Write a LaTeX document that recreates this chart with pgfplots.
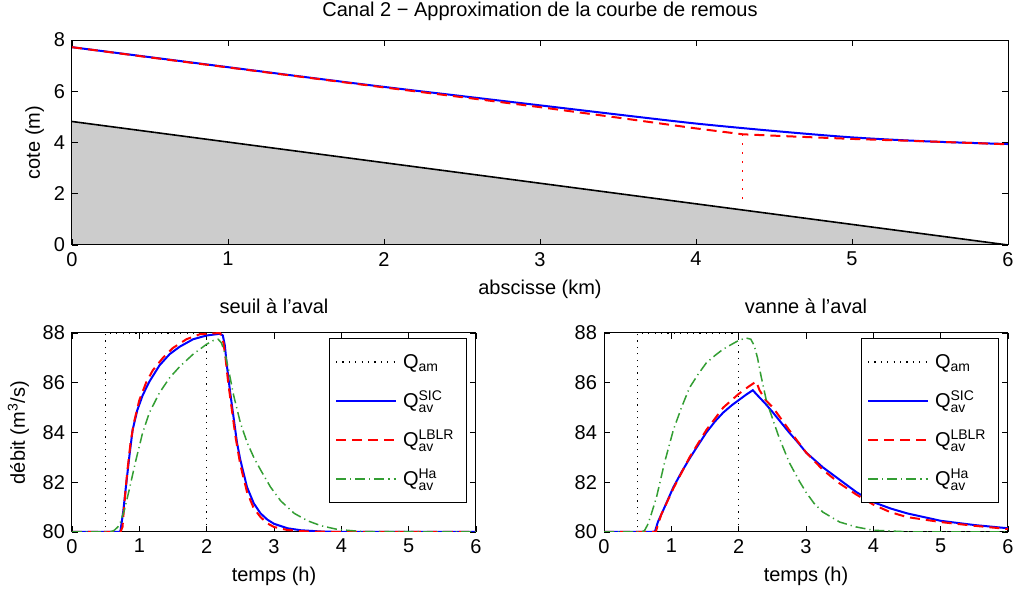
\documentclass[border=0pt]{standalone}
\usepackage{amsmath}
\usepackage{fontspec}
\setmainfont{Liberation Sans}
\usepackage{pgfplots}
\pgfplotsset{compat=1.18}
\definecolor{bedgray}{rgb}{0.8,0.8,0.8}
\definecolor{hagreen}{rgb}{0.2,0.62,0.2}
\pgfplotsset{
  every axis/.append style={
    scale only axis,
    font=\fontsize{10}{12}\selectfont,
    /pgf/number format/assume math mode=true,
    tick align=inside,
    major tick length=3pt,
    axis line style={line width=0.5pt},
    every tick/.style={black, line width=0.4pt},
    title style={font=\fontsize{10}{12}\selectfont},
    label style={font=\fontsize{10}{12}\selectfont},
  },
  mylegend/.style={
    legend cell align=left,
    legend style={at={(0.978,0.975)}, anchor=north east, draw=black, line width=0.5pt,
      font=\fontsize{10}{12}\selectfont,
      nodes={text height=10pt, text depth=3.5pt, inner sep=3pt},
      row sep=0pt},
    legend image code/.code={\draw[##1] (0pt,0pt) -- (30pt,0pt);},
  },
  qam/.style={black, dash pattern=on 0.6pt off 2.6pt, line width=0.6pt},
  sic/.style={blue, solid, line width=1pt},
  lblr/.style={red, dash pattern=on 5pt off 3pt, line width=1pt},
  ha/.style={hagreen, dash pattern=on 5pt off 2pt on 0.6pt off 2pt, line width=0.75pt},
}
\begin{document}
\begin{tikzpicture}
\path[use as bounding box] (0,0) rectangle (508.5pt,296.5pt);
% ---------------- top axis ----------------
\begin{axis}[
  at={(36pt,174pt)}, anchor=south west,
  width=468pt, height=102.5pt,
  xmin=0, xmax=6, ymin=0, ymax=8,
  xtick={0,1,...,6}, ytick={0,2,...,8},
  axis on top,
  title={Canal 2 − Approximation de la courbe de remous},
  xlabel={abscisse (km)}, ylabel={cote (m)},
  ylabel style={yshift=-2pt},
]
\addplot[fill=bedgray, draw=none] coordinates {(0,0) (0,4.82) (6,0)} -- cycle;
\addplot[black, line width=0.8pt] coordinates {(0,4.82) (6,0)};
\addplot[red, line width=0.5pt, dash pattern=on 0.6pt off 3.9pt] coordinates {(4.3,4.32) (4.3,1.7)};
\addplot[sic, smooth] coordinates {
(0,7.72) (0.5,7.33) (1,6.94) (1.5,6.55) (2,6.17) (2.5,5.81) (3,5.45) (3.5,5.09)
(4,4.74) (4.5,4.45) (5,4.20) (5.5,4.04) (6,3.94)};
\addplot[lblr] coordinates {
(0,7.72) (0.5,7.32) (1,6.93) (1.5,6.54) (2,6.15) (2.5,5.77) (3,5.38) (3.5,4.97)
(4,4.55) (4.3,4.32) (4.6,4.24) (5,4.14) (5.5,4.04) (6,3.93)};
\end{axis}
% ---------------- bottom left ----------------
\begin{axis}[
  at={(36pt,30.5pt)}, anchor=south west,
  width=202pt, height=99.5pt,
  xmin=0, xmax=6, ymin=80, ymax=88,
  xtick={0,1,...,6}, ytick={80,82,...,88},
  title={seuil à l’aval},
  xlabel={temps (h)}, ylabel={débit (m\textsuperscript{3}/s)},
  mylegend,
]
\addplot[qam] coordinates {(0,80) (0.5,80) (0.5,88) (2.0,88) (2.0,80) (6,80)};
\addlegendentry{Q$_{\text{am}}$}
\addplot[sic] coordinates {
(0,80) (0.7,80) (0.72,80.05) (0.76,80.8) (0.8,81.8) (0.85,83.0) (0.9,84.1) (0.97,84.9)
(1.05,85.5) (1.15,86.05) (1.3,86.7) (1.45,87.15) (1.6,87.45) (1.8,87.75) (2.0,87.9)
(2.2,87.97) (2.24,87.9) (2.27,87.5) (2.3,86.7) (2.35,85.6) (2.4,84.6) (2.45,83.6)
(2.5,82.9) (2.6,81.8) (2.7,81.15) (2.8,80.75) (2.9,80.5) (3.0,80.33) (3.2,80.15)
(3.4,80.07) (3.7,80.02) (4,80) (6,80)};
\addlegendentry{Q$^{\text{SIC}}_{\text{av}}$}
\addplot[lblr] coordinates {
(0,80) (0.72,80) (0.75,80.2) (0.78,81.2) (0.82,82.4) (0.87,83.6) (0.92,84.4) (1.0,85.3)
(1.1,86.0) (1.2,86.5) (1.35,87.0) (1.5,87.4) (1.7,87.75) (1.9,87.95) (2.2,88)
(2.25,87.6) (2.28,87) (2.32,86) (2.37,85) (2.43,83.8) (2.5,82.7) (2.6,81.6) (2.7,80.95)
(2.8,80.6) (2.9,80.35) (3.0,80.2) (3.2,80.08) (3.5,80.02) (4,80) (6,80)};
\addlegendentry{Q$^{\text{LBLR}}_{\text{av}}$}
\addplot[ha] coordinates {
(0,80) (0.55,80) (0.62,80.05) (0.68,80.2) (0.72,80.4) (0.78,80.9) (0.85,81.7) (0.95,82.9)
(1.05,84.0) (1.15,84.8) (1.3,85.6) (1.45,86.2) (1.6,86.65) (1.8,87.15) (2.0,87.55)
(2.1,87.7) (2.17,87.75) (2.22,87.6) (2.27,87.2) (2.32,86.6) (2.4,85.5) (2.5,84.4)
(2.6,83.6) (2.7,83.0) (2.8,82.5) (2.95,81.8) (3.1,81.25) (3.3,80.75) (3.5,80.45)
(3.7,80.25) (3.95,80.1) (4.3,80.02) (6,80)};
\addlegendentry{Q$^{\text{Ha}}_{\text{av}}$}
\end{axis}
% ---------------- bottom right ----------------
\begin{axis}[
  at={(302pt,30.5pt)}, anchor=south west,
  width=202pt, height=99.5pt,
  xmin=0, xmax=6, ymin=80, ymax=88,
  xtick={0,1,...,6}, ytick={80,82,...,88},
  title={vanne à l’aval},
  xlabel={temps (h)},
  mylegend,
]
\addplot[qam] coordinates {(0,80) (0.5,80) (0.5,88) (2.0,88) (2.0,80) (6,80)};
\addlegendentry{Q$_{\text{am}}$}
\addplot[sic] coordinates {
(0,80) (0.74,80) (0.76,80.05) (0.8,80.4) (0.9,81.0) (1.03,81.8) (1.15,82.4) (1.27,82.95)
(1.4,83.5) (1.52,84.0) (1.65,84.45) (1.77,84.8) (1.9,85.1) (2.0,85.3) (2.1,85.5)
(2.21,85.7) (2.26,85.55) (2.4,85.15) (2.51,84.8) (2.63,84.4) (2.75,84.0) (2.88,83.6)
(3.0,83.2) (3.25,82.6) (3.5,82.1) (3.75,81.6) (4.0,81.2) (4.25,80.95) (4.5,80.75)
(5.0,80.45) (5.5,80.28) (6,80.15)};
\addlegendentry{Q$^{\text{SIC}}_{\text{av}}$}
\addplot[lblr] coordinates {
(0,80) (0.77,80) (0.79,80.2) (0.85,80.7) (1.03,81.75) (1.27,83.0) (1.52,84.1) (1.77,85.0)
(2.0,85.55) (2.15,85.85) (2.26,86.05) (2.31,85.7) (2.4,85.3) (2.51,85.0) (2.75,84.1)
(3.0,83.2) (3.25,82.5) (3.5,81.95) (3.75,81.5) (4.0,81.1) (4.25,80.8) (4.5,80.6)
(5.0,80.4) (5.5,80.25) (6,80.12)};
\addlegendentry{Q$^{\text{LBLR}}_{\text{av}}$}
\addplot[ha] coordinates {
(0,80) (0.55,80) (0.6,80.05) (0.65,80.3) (0.7,80.7) (0.78,81.4) (0.9,82.8) (1.03,84.1)
(1.15,85.0) (1.27,85.8) (1.4,86.35) (1.52,86.8) (1.65,87.1) (1.77,87.35) (1.9,87.55)
(2.0,87.7) (2.11,87.8) (2.18,87.75) (2.23,87.5) (2.28,87.0) (2.33,86.3) (2.41,85.3)
(2.51,84.5) (2.6,83.8) (2.75,82.8) (2.9,82.05) (3.0,81.6) (3.12,81.15) (3.25,80.8)
(3.5,80.4) (3.75,80.2) (4.0,80.07) (4.5,80.01) (6,80)};
\addlegendentry{Q$^{\text{Ha}}_{\text{av}}$}
\end{axis}
\end{tikzpicture}
\end{document}
